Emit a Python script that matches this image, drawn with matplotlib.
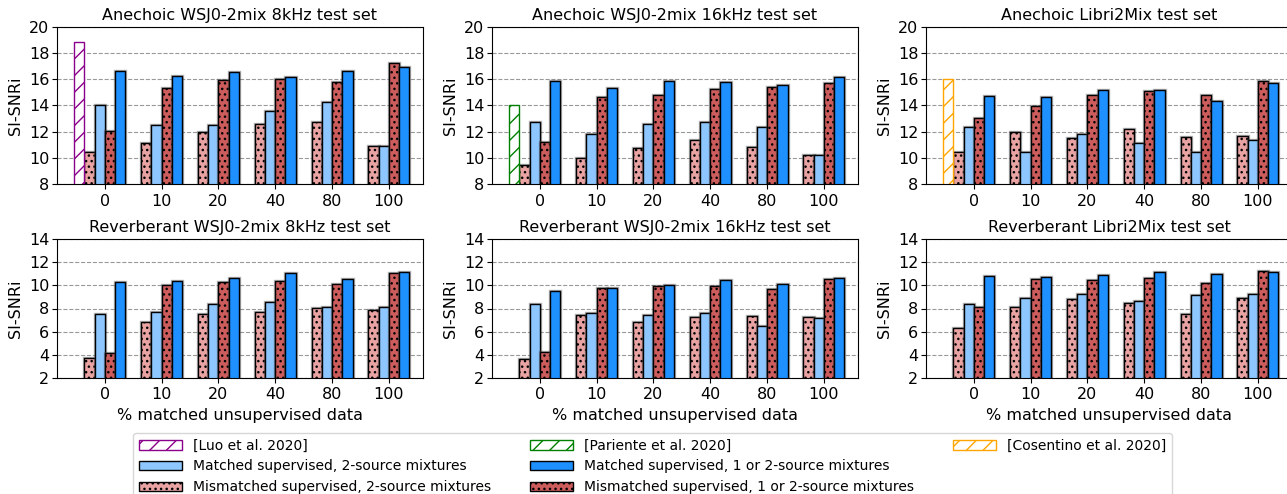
import numpy as np
import matplotlib
matplotlib.use('Agg')
import matplotlib.pyplot as plt
import matplotlib.patheffects as pe
from matplotlib.patches import Patch

plt.rcParams['font.family'] = ['DejaVu Sans']
plt.rcParams['hatch.linewidth'] = 1.0

groups = ['0', '10', '20', '40', '80', '100']

titles = ['Anechoic WSJ0-2mix 8kHz test set', 'Anechoic WSJ0-2mix 16kHz test set',
          'Anechoic Libri2Mix test set',
          'Reverberant WSJ0-2mix 8kHz test set', 'Reverberant WSJ0-2mix 16kHz test set',
          'Reverberant Libri2Mix test set']

# mismatched supervised, 2-source
mis2 = [
    [10.45, 11.15, 12.0, 12.6, 12.7, 10.92],
    [9.42, 10.0, 10.72, 11.33, 10.85, 10.24],
    [10.47, 11.97, 11.49, 12.22, 11.59, 11.69],
    [3.73, 6.86, 7.55, 7.67, 8.07, 7.84],
    [3.65, 7.41, 6.86, 7.23, 7.32, 7.29],
    [6.35, 8.14, 8.81, 8.46, 7.54, 8.9],
]
# matched supervised, 2-source
mat2 = [
    [14.05, 12.47, 12.53, 13.59, 14.25, 10.9],
    [12.73, 11.79, 12.6, 12.75, 12.32, 10.21],
    [12.38, 10.47, 11.79, 11.13, 10.47, 11.36],
    [7.55, 7.73, 8.39, 8.59, 8.1, 8.1],
    [8.36, 7.58, 7.44, 7.58, 6.51, 7.18],
    [8.43, 8.87, 9.22, 8.67, 9.16, 9.22],
]
# mismatched supervised, 1 or 2-source
mis12 = [
    [12.04, 15.3, 15.91, 15.98, 15.78, 17.2],
    [11.18, 14.66, 14.81, 15.25, 15.42, 15.68],
    [13.01, 13.98, 14.82, 15.07, 14.82, 15.84],
    [4.11, 10.01, 10.27, 10.42, 10.1, 11.05],
    [4.23, 9.81, 9.92, 9.98, 9.66, 10.59],
    [8.14, 10.52, 10.43, 10.61, 10.2, 11.22],
]
# matched supervised, 1 or 2-source
mat12 = [
    [16.59, 16.21, 16.52, 16.14, 16.59, 16.95],
    [15.83, 15.32, 15.83, 15.78, 15.52, 16.19],
    [14.69, 14.67, 15.18, 15.15, 14.31, 15.74],
    [10.3, 10.36, 10.68, 11.05, 10.59, 11.14],
    [9.55, 9.81, 10.01, 10.44, 10.1, 10.68],
    [10.78, 10.7, 10.93, 11.16, 10.96, 11.13],
]

ref_labels = ['[Luo et al. 2020]', '[Pariente et al. 2020]', '[Cosentino et al. 2020]']
ref_values = [18.83, 14.0, 16.0]
ref_colors = ['darkmagenta', 'green', 'orange']

c_mis2 = '#E9A3A3'
c_mat2 = '#8EC7FF'
c_mis12 = 'indianred'
c_mat12 = 'dodgerblue'

fig = plt.figure(figsize=(12.87, 4.94), dpi=100)
W, H = 1287, 494
lefts = [57, 492, 926]
rows = [(26.7, 184), (239.3, 377.7)]

w = 0.18
x = np.arange(len(groups))
fs = 11.5
halo = [pe.Stroke(linewidth=2.4, foreground=(0.3, 0.3, 0.3, 0.45)), pe.Normal()]

for i in range(6):
    r, c = divmod(i, 3)
    top, bot = rows[r]
    ax = fig.add_axes([lefts[c] / W, 1 - bot / H, 366 / W, (bot - top) / H])
    ax.set_axisbelow(True)
    ax.yaxis.grid(True, linestyle='--', color='gray', linewidth=0.8, alpha=0.8)
    kw = dict(width=w, edgecolor='black', linewidth=1.0)
    series = [(-1.5, mis2[i], c_mis2, '...'), (-0.5, mat2[i], c_mat2, None),
              (0.5, mis12[i], c_mis12, '...'), (1.5, mat12[i], c_mat12, None)]
    for off, vals, col, hat in series:
        bars = ax.bar(x + off * w, vals, color=col, hatch=hat, **kw)
        for b in bars:
            b.set_path_effects(halo)
    if r == 0:
        ax.bar(x[0] - 2.5 * w, ref_values[c], width=w, color='white',
               edgecolor=ref_colors[c], hatch='//', linewidth=1.0)
        ax.set_ylim(8, 20)
        ax.set_yticks(np.arange(8, 21, 2))
    else:
        ax.set_ylim(2, 14)
        ax.set_yticks(np.arange(2, 15, 2))
        ax.set_xlabel('% matched unsupervised data', fontsize=fs)
    ax.set_xlim(-0.84, 5.6)
    ax.set_xticks(x)
    ax.set_xticklabels(groups)
    ax.tick_params(labelsize=fs)
    ax.tick_params(axis='y', pad=2)
    ax.set_ylabel('SI-SNRi', fontsize=fs)
    ax.set_title(titles[i], fontsize=fs, pad=5)

handles = [
    Patch(facecolor='white', edgecolor=ref_colors[0], hatch='//', label=ref_labels[0]),
    Patch(facecolor=c_mat2, edgecolor='black', label='Matched supervised, 2-source mixtures'),
    Patch(facecolor=c_mis2, edgecolor='black', hatch='...', label='Mismatched supervised, 2-source mixtures'),
    Patch(facecolor='white', edgecolor=ref_colors[1], hatch='//', label=ref_labels[1]),
    Patch(facecolor=c_mat12, edgecolor='black', label='Matched supervised, 1 or 2-source mixtures'),
    Patch(facecolor=c_mis12, edgecolor='black', hatch='...', label='Mismatched supervised, 1 or 2-source mixtures'),
    Patch(facecolor='white', edgecolor=ref_colors[2], hatch='//', label=ref_labels[2]),
    Patch(facecolor='none', edgecolor='none', label=' '),
    Patch(facecolor='none', edgecolor='none', label=' '),
]
fig.legend(handles=handles, ncol=3, loc='upper left', bbox_to_anchor=(126 / W, 1 - 426 / H),
           fontsize=10, handlelength=3.1, handletextpad=0.8, columnspacing=2.8)

fig.savefig('out.png', dpi=100)
